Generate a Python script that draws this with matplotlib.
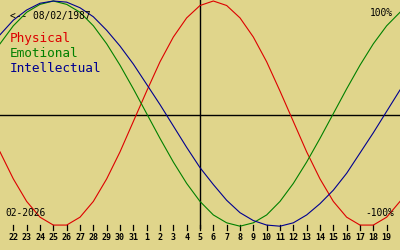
import matplotlib
matplotlib.use("Agg")
import matplotlib.pyplot as plt

# days shown on the axis (Dec 22 .. Jan 19), curves run one day past each edge
day_labels = ["22", "23", "24", "25", "26", "27", "28", "29", "30", "31",
              "1", "2", "3", "4", "5", "6", "7", "8", "9", "10",
              "11", "12", "13", "14", "15", "16", "17", "18", "19"]
days = list(range(-1, 30))  # -1 = Dec 21, 29 = Jan 20
today = 14  # Jan 5

physical = [-0.34, -0.58, -0.78, -0.92, -0.99, -0.99, -0.92, -0.78, -0.58, -0.34,
            -0.07, 0.20, 0.46, 0.68, 0.85, 0.96, 1.00, 0.96, 0.85, 0.68,
            0.46, 0.20, -0.07, -0.34, -0.58, -0.78, -0.92, -0.99, -0.99, -0.92,
            -0.78]
emotional = [0.62, 0.78, 0.90, 0.97, 1.00, 0.97, 0.90, 0.78, 0.62, 0.43,
             0.22, 0.00, -0.22, -0.43, -0.62, -0.78, -0.90, -0.97, -1.00, -0.97,
             -0.90, -0.78, -0.62, -0.43, -0.22, 0.00, 0.22, 0.43, 0.62, 0.78,
             0.90]
intellectual = [0.70, 0.83, 0.92, 0.98, 1.00, 0.99, 0.94, 0.86, 0.74, 0.60,
                0.44, 0.26, 0.08, -0.11, -0.30, -0.48, -0.63, -0.77, -0.88, -0.95,
                -0.99, -1.00, -0.97, -0.90, -0.80, -0.68, -0.53, -0.35, -0.17, 0.02,
                0.21]

bg = "#e0d58b"
red, green, blue = "#dd0000", "#008000", "#000090"
mono = "DejaVu Sans Mono"

fig = plt.figure(figsize=(4, 2.5), dpi=100, facecolor=bg)
ax = fig.add_axes([0, 0, 1, 1], facecolor=bg)
ax.set_xlim(-1, 29)
# 100% sits at y=1px, -100% near y=226px
ax.set_ylim(-1.2114, 1.0089)
ax.axis("off")

for vals, c in [(physical, red), (emotional, green), (intellectual, blue)]:
    ax.plot(days, vals, color=c, lw=0.8, zorder=3)

# axes cross
ax.plot([0, 1], [0.54, 0.54], transform=ax.transAxes, color="black", lw=1.0, zorder=2)
ax.plot([today, today], [0.088, 1], transform=ax.get_xaxis_transform(),
        color="black", lw=1.0, zorder=2)

# day ticks and labels
xt = ax.get_xaxis_transform()
for i, lab in enumerate(day_labels):
    ax.plot([i, i], [0.08, 0.1], transform=xt, color="black", lw=0.9)
    ax.text(i, 0.038, lab, transform=xt, ha="center", va="baseline",
            fontsize=6, fontweight="bold", family=mono)

def px(x, y):
    return x / 400, 1 - y / 250

ax.text(*px(10, 19.3), "<-- 08/02/1987", transform=ax.transAxes, fontsize=6.9,
        family=mono, va="baseline")
ax.text(*px(10, 42.3), "Physical", transform=ax.transAxes, fontsize=9.2,
        family=mono, va="baseline", color=red)
ax.text(*px(10, 57.3), "Emotional", transform=ax.transAxes, fontsize=9.2,
        family=mono, va="baseline", color=green)
ax.text(*px(10, 72.5), "Intellectual", transform=ax.transAxes, fontsize=9.2,
        family=mono, va="baseline", color=blue)
ax.text(*px(393, 16), "100%", transform=ax.transAxes, fontsize=6.9,
        family=mono, va="baseline", ha="right")
ax.text(*px(394, 216.5), "-100%", transform=ax.transAxes, fontsize=6.9,
        family=mono, va="baseline", ha="right")
ax.text(*px(5, 216.5), "02-2026", transform=ax.transAxes, fontsize=6.9,
        family=mono, va="baseline")

fig.savefig("out.png", dpi=100, facecolor=bg)
